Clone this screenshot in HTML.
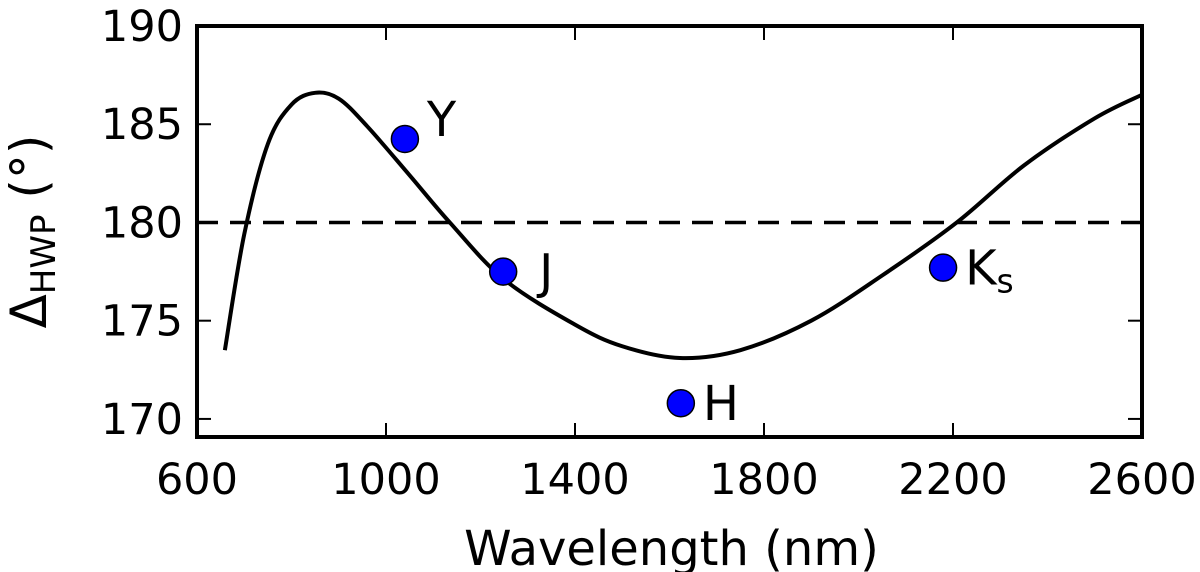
<!DOCTYPE html>
<html><head><meta charset="utf-8"><style>
html,body{margin:0;padding:0;background:#fff;}
svg{display:block;font-family:"DejaVu Sans","Liberation Sans",sans-serif;}
</style></head><body>
<svg id="chart" width="1200" height="572" viewBox="0 0 1200 572"></svg>
<script>
const curveWavelengths=[659,700,750,800,850,900,960,1050,1135,1250,1400,1500,1622,1750,1900,2050,2208,2350,2500,2600];
const curveValues=[173.5,179.4,184.0,186.0,186.6,186.3,184.9,182.4,180.0,177.1,174.8,173.7,173.1,173.5,175.0,177.3,180.0,182.9,185.3,186.5];
const bandNames=["Y","J","H","K"];
const bandWavelengths=[1040,1248,1624,2179];
const bandValues=[184.25,177.5,170.8,177.7];
const xTicks=[600,1000,1400,1800,2200,2600];
const yTicks=[170,175,180,185,190];
const refLine=180;

const NS="http://www.w3.org/2000/svg";
const svg=document.getElementById('chart');
const L=197,R=1142,T=26,B=437;
const xMin=600,xMax=2600,yMin=169.08,yMax=190;
const X=v=>L+(v-xMin)/(xMax-xMin)*(R-L);
const Y=v=>B-(v-yMin)/(yMax-yMin)*(B-T);
function mk(tag,attrs,parent){const e=document.createElementNS(NS,tag);for(const k in attrs)e.setAttribute(k,attrs[k]);(parent||svg).appendChild(e);return e;}

const ref=mk('line',{x1:L,x2:R,y1:Y(refLine),y2:Y(refLine),stroke:'#000','stroke-width':3.5,'stroke-dasharray':'21 12'});



const pts=curveWavelengths.map((w,i)=>[X(w),Y(curveValues[i])]);
let d=`M${pts[0][0]},${pts[0][1]}`;
for(let i=0;i<pts.length-1;i++){const p0=pts[Math.max(0,i-1)],p1=pts[i],p2=pts[i+1],p3=pts[Math.min(pts.length-1,i+2)];
d+=` C${p1[0]+(p2[0]-p0[0])/6},${p1[1]+(p2[1]-p0[1])/6} ${p2[0]-(p3[0]-p1[0])/6},${p2[1]-(p3[1]-p1[1])/6} ${p2[0]},${p2[1]}`;}
const cp=mk('path',{d:d,fill:'none',stroke:'#000','stroke-width':4});



bandNames.forEach((n,i)=>{
 const cx=X(bandWavelengths[i]),cy=Y(bandValues[i]);
 const c=mk('circle',{cx:cx,cy:cy,r:13.5,fill:'#0000ff',stroke:'#000','stroke-width':1.5});
 
 
 const t=mk('text',{x:cx+(n==="J"?36:22),y:cy+(i==0?-3:17),'font-size':48,fill:'#000'});
 t.textContent=n;
 if(n==="K"){const s=mk('tspan',{'font-size':33,dy:8},t);s.textContent='s';}
 
 
});

const fr=mk('rect',{x:L,y:T,width:R-L,height:B-T,fill:'none',stroke:'#000','stroke-width':4});



xTicks.forEach(v=>{const x=X(v);
 mk('line',{x1:x,x2:x,y1:B,y2:B-14,stroke:'#000','stroke-width':2});
 mk('line',{x1:x,x2:x,y1:T,y2:T+14,stroke:'#000','stroke-width':2});
 const t=mk('text',{x:x,y:B+57,'font-size':43,'text-anchor':'middle'});t.textContent=v;
 
 
});
yTicks.forEach(v=>{const y=Y(v);
 mk('line',{x1:L,x2:L+14,y1:y,y2:y,stroke:'#000','stroke-width':2});
 mk('line',{x1:R,x2:R-14,y1:y,y2:y,stroke:'#000','stroke-width':2});
 const t=mk('text',{x:L-14,y:y+15,'font-size':43,'text-anchor':'end'});t.textContent=v;
 
 
});

const xt=mk('text',{x:(L+R)/2+2,y:565,'font-size':48,'text-anchor':'middle'});xt.textContent='Wavelength (nm)';


const yt=mk('text',{transform:`translate(46,${(T+B)/2}) rotate(-90)`,'font-size':50,'text-anchor':'middle'});
yt.innerHTML='Δ<tspan font-size="34" dy="9">HWP</tspan><tspan dy="-9"> (°)</tspan>';


</script>
</body></html>
